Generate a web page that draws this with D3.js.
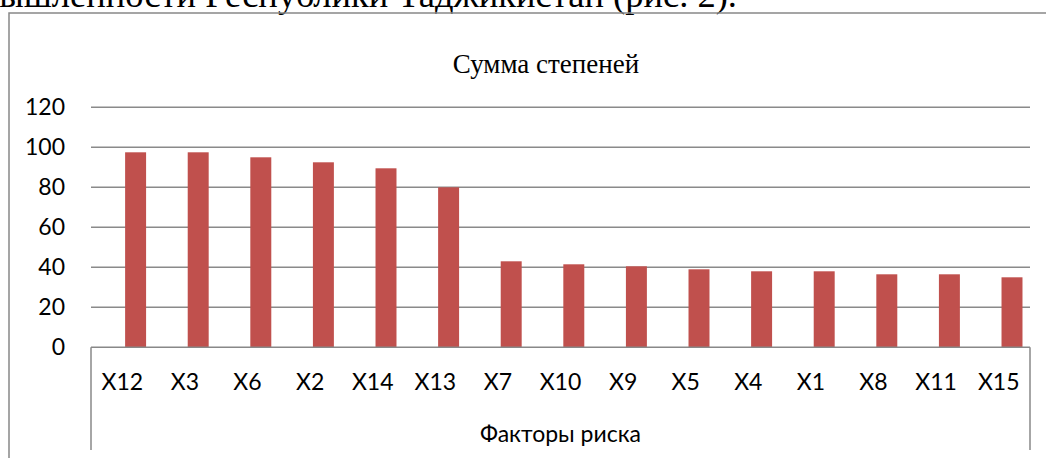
<!DOCTYPE html>
<html>
<head>
<meta charset="utf-8">
<script src="https://cdn.jsdelivr.net/npm/d3@7"></script>
<style>
  html, body { margin: 0; padding: 0; background: #fff; }
  svg { display: block; }
</style>
</head>
<body>
<svg id="chart" width="1046" height="458"></svg>
<script>
const categories = ["X12","X3","X6","X2","X14","X13","X7","X10","X9","X5","X4","X1","X8","X11","X15"];
const values = [97.5, 97.5, 95, 92.5, 89.5, 80, 43, 41.5, 40.5, 39, 38, 38, 36.5, 36.5, 35];
const yTicks = [0, 20, 40, 60, 80, 100, 120];
const chartTitle = "Сумма степеней";
const axisTitle = "Факторы риска";
const pageText = "промышленности Республики Таджикистан (рис. 2).";

const svg = d3.select("#chart");

// page text cut off at top
svg.append("text")
  .attr("x", 737).attr("y", 6.5)
  .attr("text-anchor", "end")
  .attr("font-family", "'Liberation Serif', 'Times New Roman', serif")
  .attr("font-size", 36.5)
  .attr("fill", "#000")
  .text(pageText);

// chart outer border
svg.append("rect")
  .attr("x", 9).attr("y", 13)
  .attr("width", 1100).attr("height", 500)
  .attr("fill", "none")
  .attr("stroke", "#888")
  .attr("stroke-width", 1.5);

const x = d3.scaleBand().domain(categories).range([91, 1030]).padding(0);
const y = d3.scaleLinear().domain([0, 120]).range([347.3, 107.3]);
const bw = x.bandwidth();

// gridlines
svg.append("g").selectAll("line")
  .data(yTicks.filter(d => d > 0))
  .join("line")
  .attr("x1", 91).attr("x2", 1030)
  .attr("y1", d => y(d)).attr("y2", d => y(d))
  .attr("stroke", "#8a8a8a")
  .attr("stroke-width", 1.5);

// y tick labels
svg.append("g").selectAll("text")
  .data(yTicks)
  .join("text")
  .attr("x", 65)
  .attr("y", d => y(d))
  .attr("dy", "0.35em")
  .attr("text-anchor", "end")
  .attr("font-family", "Lato, 'Open Sans', sans-serif")
  .attr("font-size", 23)
  .attr("fill", "#000")
  .text(d => d);

// bars
svg.append("g").selectAll("rect")
  .data(values)
  .join("rect")
  .attr("x", (d, i) => x(categories[i]) + bw * 0.545)
  .attr("width", bw * 0.335)
  .attr("y", d => y(d))
  .attr("height", d => y(0) - y(d))
  .attr("fill", "#C0504D");

// category axis box
const axisG = svg.append("g").attr("stroke", "#888").attr("stroke-width", 1.5);
axisG.append("line").attr("x1", 91).attr("x2", 1030).attr("y1", y(0)).attr("y2", y(0));
axisG.append("line").attr("x1", 91).attr("x2", 91).attr("y1", y(0)).attr("y2", 450);
axisG.append("line").attr("x1", 1030).attr("x2", 1030).attr("y1", y(0)).attr("y2", 450);

// category labels
svg.append("g").selectAll("text")
  .data(categories)
  .join("text")
  .attr("x", d => x(d) + bw / 2)
  .attr("y", 390)
  .attr("text-anchor", "middle")
  .attr("font-family", "Lato, 'Open Sans', sans-serif")
  .attr("font-size", 23)
  .attr("fill", "#000")
  .text(d => d);

// axis group title
svg.append("text")
  .attr("x", (91 + 1030) / 2)
  .attr("y", 442)
  .attr("text-anchor", "middle")
  .attr("font-family", "Lato, 'Open Sans', sans-serif")
  .attr("font-size", 23)
  .attr("fill", "#000")
  .text(axisTitle);

// chart title
svg.append("text")
  .attr("x", 546)
  .attr("y", 73)
  .attr("text-anchor", "middle")
  .attr("font-family", "'Liberation Serif', 'Times New Roman', serif")
  .attr("font-size", 27)
  .attr("fill", "#000")
  .text(chartTitle);
</script>
</body>
</html>
